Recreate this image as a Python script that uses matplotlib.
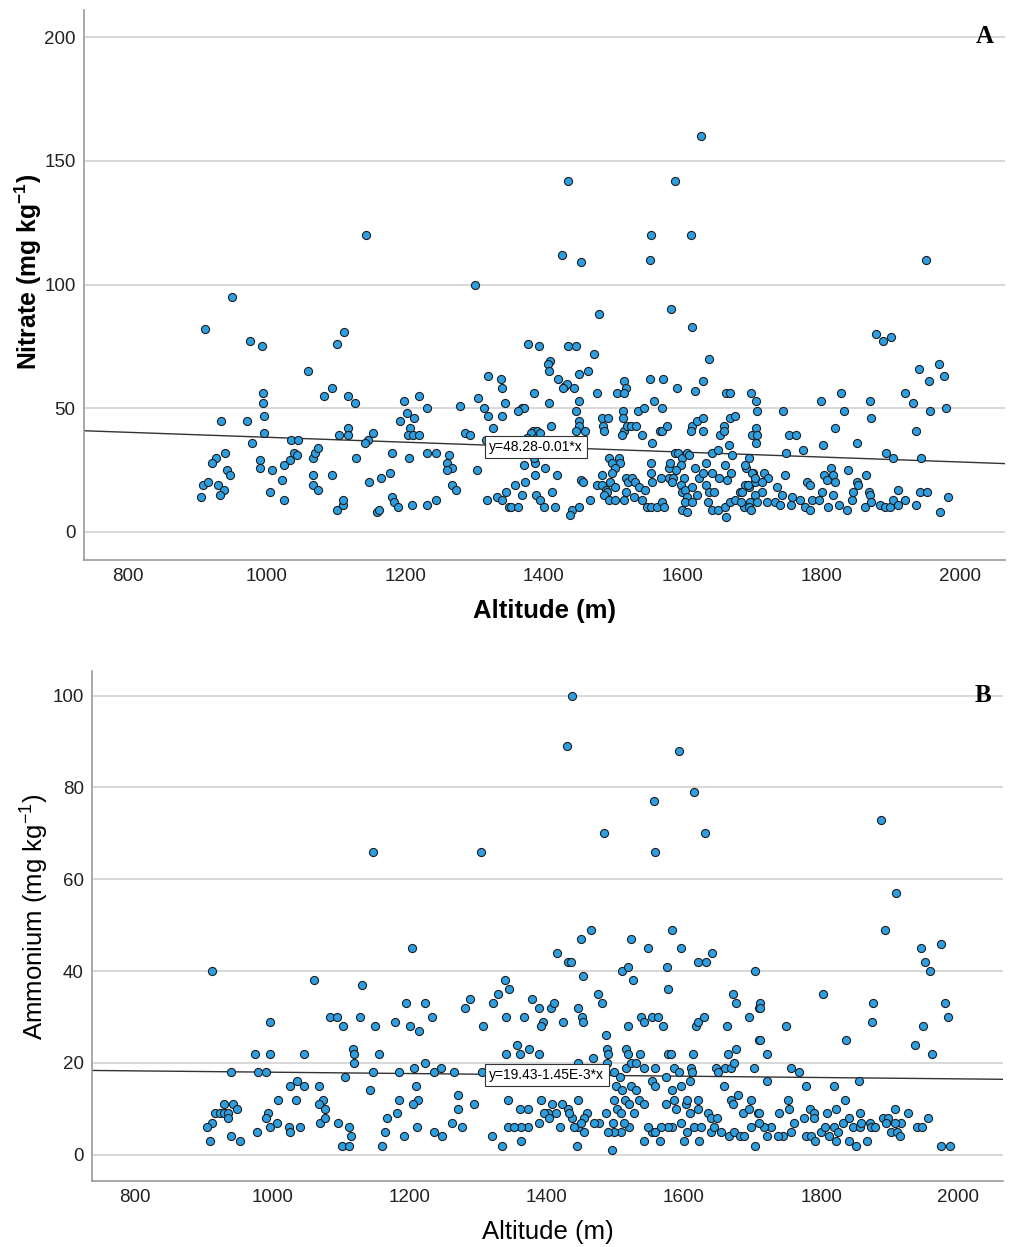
import matplotlib
matplotlib.use("Agg")
import matplotlib.pyplot as plt
import numpy as np

plt.rcParams['font.family'] = ['Liberation Sans', 'DejaVu Sans']
plt.rcParams['mathtext.fontset'] = 'custom'
plt.rcParams['mathtext.rm'] = 'Liberation Sans'
plt.rcParams['mathtext.bf'] = 'Liberation Sans:bold'

# Soil samples: altitude (m) and nitrate (mg/kg)
nitrate_alt = [
    950, 912, 976, 993, 1300, 1112, 1102, 1060, 1320, 1338, 1339, 1305, 1344, 1313, 1320, 1339,
    1327, 1317, 1279, 1094, 1083, 1118, 1127, 995, 995, 996, 997, 935, 972, 979, 1199, 1202,
    1193, 1213, 1220, 1231, 1207, 1204, 1212, 1220, 1286, 1293, 1118, 1104, 1117, 1154, 1147, 1142,
    1035, 1045, 1039, 1034, 1044, 1067, 1070, 1075, 940, 927, 921, 943, 947, 990, 990, 1008,
    1025, 1023, 1005, 1025, 1067, 1067, 1075, 1094, 1129, 1101, 1110, 1110, 1181, 1205, 1232, 1244,
    1263, 1261, 1268, 1260, 1268, 1273, 1304, 1148, 1165, 1178, 1181, 1184, 1190, 1210, 1232, 1244,
    1159, 1162, 905, 908, 916, 930, 939, 933, 1318, 1332, 1340, 1345, 1349,
    1377, 1393, 1435, 1447, 1472, 1409, 1406, 1407, 1420, 1430, 1433, 1427, 1444, 1450, 1463, 1386,
    1408, 1450, 1477, 1505, 1516, 1519, 1516, 1553, 1572, 1592, 1618, 1629, 1638, 1662, 1669, 1699,
    1706, 1368, 1372, 1363, 1446, 1450, 1451, 1447, 1459, 1410, 1384, 1390, 1484, 1493, 1485, 1486,
    1514, 1514, 1516, 1520, 1513, 1526, 1533, 1535, 1545, 1559, 1570, 1541, 1556, 1567, 1570, 1578,
    1613, 1612, 1621, 1630, 1629, 1654, 1659, 1660, 1669, 1675, 1667, 1700, 1706, 1706, 1371, 1387,
    1386, 1402, 1387, 1419, 1358, 1373, 1369, 1388, 1394, 1412, 1400, 1416, 1352, 1363, 1441, 1438,
    1450, 1453, 1456, 1467, 1477, 1484, 1484, 1489, 1491, 1486, 1494, 1498, 1508, 1510, 1503, 1498,
    1496, 1503, 1494, 1503, 1515, 1518, 1521, 1527, 1532, 1519, 1530, 1537, 1542, 1546, 1554, 1556,
    1554, 1548, 1555, 1563, 1570, 1573, 1569, 1580, 1580, 1582, 1589, 1594, 1599, 1606, 1609, 1597,
    1590, 1586, 1584, 1602, 1597, 1599, 1604, 1606, 1614, 1603, 1599, 1606, 1614, 1621, 1633, 1638,
    1645, 1637, 1642, 1651, 1663, 1661, 1669, 1676, 1683, 1690, 1695, 1689, 1697, 1664, 1670, 1661,
    1671, 1642, 1651, 1692, 1701, 1705, 1618, 1623, 1630, 1642, 1652, 1633,
    1381, 1388, 1395, 1375, 1430,
    1879, 1889, 1900, 1941, 1969, 1955, 1977, 1707, 1707, 1745, 1753, 1764, 1749, 1774, 1800, 1829,
    1832, 1820, 1803, 1851, 1870, 1872, 1920, 1932, 1956, 1980, 1936, 1893, 1904, 1943, 1695, 1690,
    1700, 1705, 1717, 1723, 1714, 1694, 1714, 1705, 1685, 1684, 1707, 1721, 1695, 1699, 1736, 1743,
    1733, 1741, 1748, 1757, 1769, 1756, 1779, 1784, 1777, 1784, 1786, 1796, 1801, 1804, 1814, 1817,
    1819, 1808, 1817, 1809, 1826, 1837, 1838, 1844, 1846, 1851, 1853, 1865, 1868, 1870, 1863, 1872,
    1884, 1892, 1899, 1904, 1911, 1910, 1920, 1936, 1942, 1952, 1971, 1983,
    1626, 1435, 1589, 1144, 1554, 1612, 1426, 1454, 1553, 1951, 1479, 1583, 1614,
]
nitrate = [
    95, 82, 77, 75, 100, 81, 76, 65, 63, 62, 58, 54, 52, 50, 47, 47,
    42, 37, 51, 58, 55, 55, 52, 56, 52, 47, 40, 45, 45, 36, 53, 48,
    45, 46, 55, 50, 42, 39, 39, 39, 40, 39, 42, 39, 39, 40, 37, 36,
    37, 37, 32, 29, 31, 30, 32, 34, 32, 30, 28, 25, 23, 29, 26, 25,
    27, 21, 16, 13, 23, 19, 17, 23, 30, 9, 11, 13, 32, 30, 32, 32,
    31, 28, 26, 25, 19, 17, 25, 20, 22, 24, 14, 12, 10, 11, 11, 13,
    8, 9, 14, 19, 20, 19, 17, 15, 13, 14, 13, 16, 10,
    76, 75, 75, 75, 72, 69, 68, 65, 62, 59, 60, 58, 58, 64, 65, 56,
    52, 53, 56, 56, 61, 58, 56, 62, 62, 58, 57, 61, 70, 56, 56, 56,
    53, 50, 50, 49, 49, 45, 43, 41, 41, 43, 41, 41, 46, 46, 43, 41,
    49, 46, 41, 43, 39, 43, 43, 49, 50, 53, 50, 39, 36, 41, 41, 43,
    43, 41, 45, 46, 41, 39, 43, 41, 46, 47, 35, 39, 42, 36, 27, 28,
    30, 26, 23, 23, 19, 20, 15, 15, 13, 16, 10, 10, 10, 10, 9, 7,
    10, 21, 20, 13, 19, 23, 19, 17, 16, 15, 30, 28, 30, 28, 26, 24,
    20, 18, 13, 13, 13, 22, 20, 22, 20, 16, 14, 18, 13, 17, 24, 20,
    28, 10, 10, 10, 12, 10, 22, 22, 26, 28, 32, 32, 30, 32, 31, 27,
    25, 22, 20, 22, 19, 16, 17, 14, 18, 12, 9, 8, 12, 15, 19, 16,
    16, 12, 9, 9, 6, 10, 12, 13, 16, 19, 18, 10, 12, 21, 24, 27,
    31, 32, 33, 26, 24, 20, 26, 22, 24, 24, 22, 28,
    40, 38, 40, 38, 33,
    80, 77, 79, 66, 68, 61, 63, 49, 39, 49, 39, 39, 32, 33, 53, 56,
    49, 42, 35, 36, 53, 46, 56, 52, 49, 50, 41, 32, 30, 30, 30, 27,
    24, 22, 24, 22, 20, 19, 16, 15, 16, 12, 12, 12, 10, 9, 18, 15,
    12, 11, 23, 14, 13, 11, 20, 19, 10, 9, 13, 13, 16, 23, 26, 23,
    20, 21, 15, 10, 11, 9, 25, 13, 16, 20, 19, 23, 16, 15, 10, 12,
    11, 10, 10, 13, 17, 11, 13, 11, 16, 16, 8, 14,
    160, 142, 142, 120, 120, 120, 112, 109, 110, 110, 88, 90, 83,
]

# Soil samples: altitude (m) and ammonium (mg/kg)
ammonium_alt = [
    912, 1203, 1060, 1130, 996, 1084, 1094, 1103, 1128, 1150, 1179, 1195, 1222, 1200, 1214, 1233,
    1281, 1288, 1307, 1322, 1329, 1339, 1345, 1341, 974, 997, 1046, 1118, 1119, 1119, 1156, 940,
    979, 991, 1106, 1147, 1184, 1206, 1222, 1235, 1246, 1264, 1306, 1340, 1026, 1036, 1046, 1068,
    1142, 1209, 1008, 1035, 1073, 1068, 1076, 1185, 1212, 1205, 1270, 1270, 1294, 1343, 930, 943,
    917, 923, 929, 935, 935, 948, 912, 905, 909, 940, 952, 978, 993, 991, 997, 1006,
    1024, 1026, 1040, 1069, 1077, 1096, 1111, 1114, 1102, 1111, 1167, 1182, 1164, 1160, 1192, 1211,
    1235, 1247, 1262, 1276, 1320, 1334, 1343,
    1431, 1435, 1453, 1510, 1518, 1526, 1575, 1620, 1632, 1703, 1379, 1388, 1406, 1411, 1446, 1474,
    1480, 1366, 1395, 1391, 1423, 1451, 1452, 1518, 1537, 1542, 1554, 1562, 1570, 1576, 1617, 1620,
    1629, 1663, 1672, 1676, 1695, 1709, 1710, 1486, 1488, 1489, 1515, 1518, 1536, 1576, 1581, 1613,
    1664, 1676, 1357, 1374, 1361, 1388, 1467, 1446, 1488, 1498, 1506, 1515, 1523, 1530, 1542, 1557,
    1574, 1585, 1593, 1610, 1608, 1611, 1647, 1649, 1659, 1669, 1673, 1702, 1658, 1501, 1510, 1523,
    1530, 1514, 1535, 1542, 1498, 1502, 1520, 1527, 1554, 1558, 1583, 1596, 1574, 1586, 1588, 1603,
    1605, 1620, 1621, 1635, 1639, 1648, 1669, 1678, 1671, 1686, 1698, 1695, 1708, 1608, 1596, 1583,
    1576, 1566, 1554, 1547, 1557, 1542, 1565, 1520, 1513, 1508, 1498, 1489, 1495, 1508, 1496, 1476,
    1469, 1486, 1459, 1454, 1454, 1446, 1444, 1450, 1437, 1431, 1422, 1413, 1407, 1401, 1396, 1403,
    1389, 1372, 1362, 1352, 1363, 1372, 1361, 1391, 1446, 1419, 1439, 1432, 1615, 1625, 1622, 1605,
    1600, 1639, 1644, 1654, 1666, 1673, 1681, 1688, 1697, 1703,
    1415, 1450, 1465, 1523, 1547, 1582, 1595, 1641,
    1893, 1945, 1974, 1951, 1959, 1803, 1876, 1981, 1985, 1874, 1948, 1936, 1961, 1836, 1711, 1711,
    1749, 1711, 1721, 1756, 1767, 1721, 1778, 1818, 1855, 1751, 1753, 1739, 1761, 1756, 1744, 1737,
    1727, 1717, 1721, 1710, 1710, 1775, 1783, 1789, 1789, 1778, 1785, 1791, 1800, 1805, 1809, 1811,
    1822, 1819, 1824, 1822, 1831, 1834, 1841, 1846, 1840, 1851, 1856, 1857, 1858, 1867, 1871, 1873,
    1878, 1890, 1897, 1895, 1901, 1908, 1910, 1915, 1916, 1907, 1926, 1940, 1947, 1956, 1975, 1987,
    1437, 1429, 1593, 1614, 1556, 1887, 1484, 1630, 1146, 1304, 1558, 1909,
]
ammonium = [
    40, 45, 38, 37, 29, 30, 30, 28, 30, 28, 29, 33, 33, 28, 27, 30,
    32, 34, 28, 33, 35, 38, 36, 30, 22, 22, 22, 23, 22, 20, 22, 18,
    18, 18, 17, 18, 18, 19, 20, 18, 19, 18, 18, 22, 15, 16, 15, 15,
    14, 15, 12, 12, 12, 11, 10, 12, 12, 11, 13, 10, 11, 12, 11, 11,
    9, 9, 9, 9, 8, 10, 7, 6, 3, 4, 3, 5, 9, 8, 6, 7,
    6, 5, 6, 7, 8, 7, 6, 4, 2, 2, 8, 9, 5, 2, 4, 6,
    5, 4, 7, 6, 4, 2, 6,
    42, 42, 39, 40, 41, 38, 41, 42, 42, 40, 34, 32, 32, 33, 32, 35,
    33, 30, 29, 28, 29, 30, 29, 28, 30, 29, 30, 30, 28, 36, 28, 29,
    30, 28, 35, 33, 30, 32, 25, 26, 23, 22, 23, 22, 22, 22, 22, 22,
    22, 23, 24, 23, 22, 22, 21, 20, 20, 18, 17, 19, 20, 20, 19, 19,
    17, 19, 18, 19, 16, 18, 19, 18, 19, 19, 20, 19, 15, 15, 14, 15,
    14, 12, 12, 11, 12, 10, 11, 9, 16, 15, 14, 15, 11, 12, 10, 11,
    12, 12, 10, 9, 8, 8, 12, 13, 11, 9, 12, 10, 9, 9, 7, 6,
    6, 6, 5, 6, 5, 3, 3, 6, 7, 5, 5, 5, 1, 9, 7, 7,
    7, 9, 9, 8, 5, 6, 2, 7, 8, 10, 11, 9, 11, 9, 9, 8,
    7, 6, 6, 6, 3, 10, 10, 12, 12, 6, 6, 9, 6, 6, 3, 5,
    3, 5, 6, 5, 4, 5, 4, 4, 6, 2,
    44, 47, 49, 47, 45, 49, 45, 44,
    49, 45, 46, 42, 40, 35, 33, 33, 30, 29, 28, 24, 22, 25, 33, 32,
    28, 25, 22, 19, 18, 16, 15, 15, 16, 12, 10, 9, 7, 5, 4, 4,
    6, 6, 4, 9, 7, 8, 10, 9, 8, 4, 4, 3, 5, 6, 9, 4,
    10, 6, 5, 3, 7, 12, 8, 6, 3, 2, 6, 9, 7, 3, 7, 6,
    6, 8, 8, 7, 5, 10, 5, 4, 7, 7, 9, 6, 6, 8, 2, 2,
    100, 89, 88, 79, 77, 73, 70, 70, 66, 66, 66, 57,
]

# linear fits reported with each panel
nitrate_fit = (48.28, -0.01)
ammonium_fit = (19.43, -1.45e-3)

POINT_FILL = '#2C9FE2'
POINT_EDGE = '#1e1e1e'
GRID = '#d6d6d6'
SPINE = '#9a9a9a'


def style_axes(ax, yticks):
    ax.set_yticks(yticks)
    ax.set_xticks([800, 1000, 1200, 1400, 1600, 1800, 2000])
    ax.grid(axis='y', color=GRID, linewidth=1.3, zorder=0)
    ax.set_axisbelow(True)
    for side in ('top', 'right'):
        ax.spines[side].set_visible(False)
    for side in ('left', 'bottom'):
        ax.spines[side].set_color(SPINE)
        ax.spines[side].set_linewidth(1.2)
    ax.tick_params(length=0, labelsize=13.5, colors='#222222', pad=6)


def draw_panel(ax, alt, vals, fit, fit_label, label_x, ylim, yticks, ylabel, bold,
               letter, ysize, ypad, ypos):
    xlim = (737, 2065)
    ax.scatter(alt, vals, s=34, c=POINT_FILL, edgecolors=POINT_EDGE,
               linewidths=0.8, zorder=3)
    xs = np.array(xlim)
    ax.plot(xs, fit[0] + fit[1] * xs, color='#333333', linewidth=1.0, zorder=2)
    ax.text(label_x, fit[0] + fit[1] * label_x, fit_label, fontsize=10,
            ha='center', va='center', zorder=4,
            bbox=dict(boxstyle='square,pad=0.3', fc='white', ec='#333333', lw=0.8))
    ax.set_xlim(*xlim)
    ax.set_ylim(*ylim)
    style_axes(ax, yticks)
    weight = 'bold' if bold else 'normal'
    ax.set_xlabel('Altitude (m)', fontsize=18.5, fontweight=weight, labelpad=10)
    ax.set_ylabel(ylabel, fontsize=ysize, fontweight=weight, labelpad=ypad)
    ax.yaxis.label.set_y(ypos)
    ax.text(0.978, 0.952, letter, transform=ax.transAxes, fontsize=18,
            fontweight='bold', family='Liberation Serif', ha='center', va='center')


fig = plt.figure(figsize=(10.10, 12.47), dpi=100)
ax_a = fig.add_axes([0.0832, 0.551, 0.912, 0.441])
ax_b = fig.add_axes([0.0911, 0.053, 0.902, 0.409])

draw_panel(ax_a, nitrate_alt, nitrate, nitrate_fit, 'y=48.28-0.01*x', 1388,
           (-11.3, 211), [0, 50, 100, 150, 200],
           r'Nitrate (mg kg$^{\mathbf{-1}}$)', True, 'A', 17.8, 0, 0.524)
draw_panel(ax_b, ammonium_alt, ammonium, ammonium_fit, 'y=19.43-1.45E-3*x', 1400,
           (-5.7, 105.4), [0, 20, 40, 60, 80, 100],
           r'Ammonium (mg kg$^{-1}$)', False, 'B', 18.5, 2, 0.518)

fig.savefig('out.png', dpi=100)
